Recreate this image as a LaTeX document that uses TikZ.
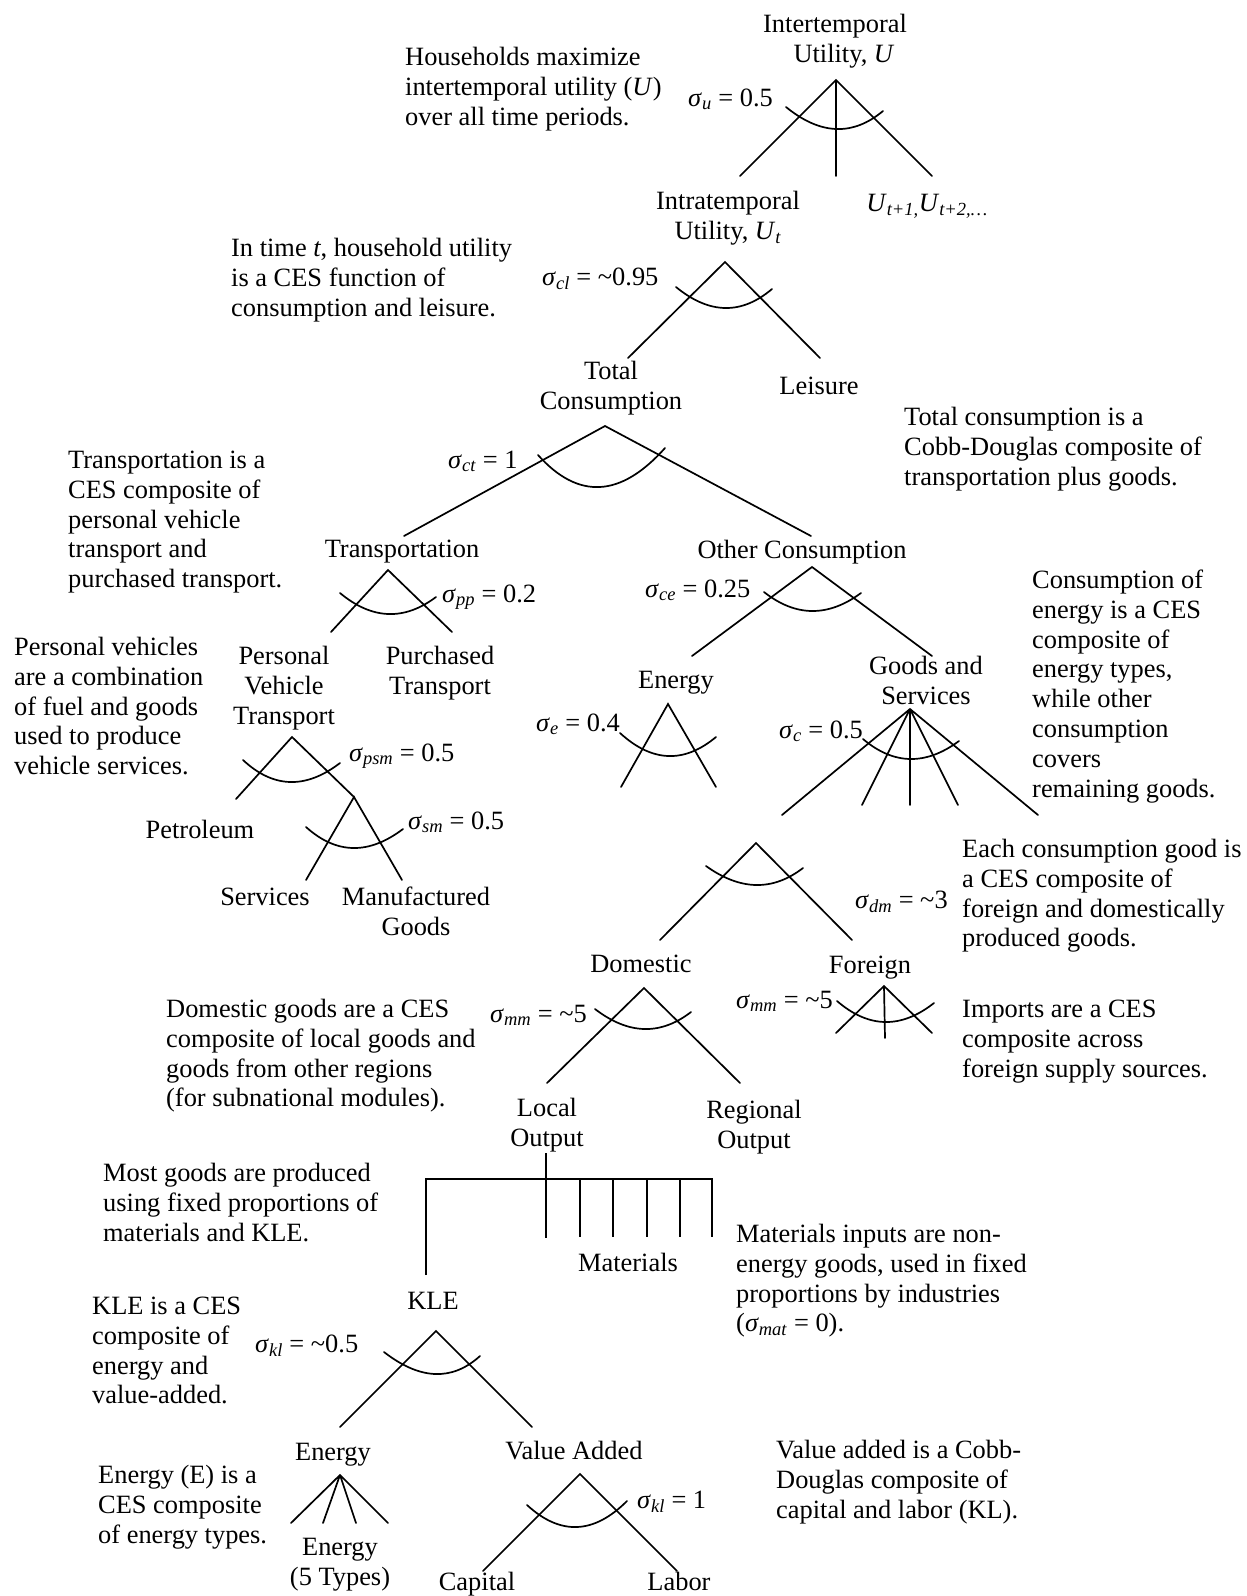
\documentclass[tikz,border=0pt]{standalone}
\usepackage{fontspec}
\setmainfont{Liberation Serif}
\usetikzlibrary{calc}
% elasticity label: italic sigma with italic subscript
\newcommand\sgm[1]{\textit{σ}\textsubscript{\textit{#1}}}
\newcommand\tld{\textasciitilde}
% curved elasticity marker through left end, lowest point and right end
\newcommand\cesarc[3]{\draw[tree] (#1) .. controls ($(#2)+0.3333*(#2)-0.3333*(#3)$) and ($(#2)+0.3333*(#2)-0.3333*(#1)$) .. (#3);}
\tikzset{
  tree/.style={line width=1.7pt, line cap=round},
  lbl/.style={inner sep=0pt, align=center, anchor=north},
  note/.style={inner sep=0pt, align=left, anchor=north west},
  sig/.style={inner sep=0pt, anchor=base west},
}
\begin{document}
\begin{tikzpicture}[x=1pt, y=-1pt, font=\fontsize{26.4}{29.8}\selectfont]
\fill[white] (0,0) rectangle (1247,1596);
\useasboundingbox (0,0) rectangle (1247,1596);

% ---------- explanatory notes ----------
\node[note] (n1) at (405,44.5) {\strut Households maximize\\intertemporal utility (\textit{U})\\over all time periods.};
\node[note] (n2) at (231,235.5) {\strut In time \textit{t}, household utility\\is a CES function of\\consumption and leisure.};
\node[note] (n3) at (904,404.5) {\strut Total consumption is a\\Cobb-Douglas composite of\\transportation plus goods.};
\node[note] (n4) at (68,447.5) {\strut Transportation is a\\CES composite of\\personal vehicle\\transport and\\purchased transport.};
\node[note] (n5) at (14,634.5) {\strut Personal vehicles\\are a combination\\of fuel and goods\\used to produce\\vehicle services.};
\node[note] (n6) at (1032,567.5) {\strut Consumption of\\energy is a CES\\composite of\\energy types,\\while other\\consumption\\covers\\remaining goods.};
\node[note] (n7) at (962,836.5) {\strut Each consumption good is\\a CES composite of\\foreign and domestically\\produced goods.};
\node[note] (n8) at (166,996.5) {\strut Domestic goods are a CES\\composite of local goods and\\goods from other regions\\(for subnational modules).};
\node[note] (n9) at (962,996.5) {\strut Imports are a CES\\composite across\\foreign supply sources.};
\node[note] (n10) at (103,1160.5) {\strut Most goods are produced\\using fixed proportions of\\materials and KLE.};
\node[note] (n11) at (736,1221.5) {\strut Materials inputs are non-\\energy goods, used in fixed\\proportions by industries\\(\sgm{mat} = 0).};
\node[note] (n12) at (92,1293.5) {\strut KLE is a CES\\composite of\\energy and\\value-added.};
\node[note] (n13) at (98,1462.5) {\strut Energy (E) is a\\CES composite\\of energy types.};
\node[note] (n14) at (776,1437.5) {\strut Value added is a Cobb-\\Douglas composite of\\capital and labor (KL).};

% ---------- tree labels ----------
\node[lbl] (inter) at (835,11.5) {\strut Intertemporal\\\hspace*{18pt}Utility, \textit{U}};
\node[lbl] (intra) at (728,188.5) {\strut Intratemporal\\Utility, \textit{U}\textsubscript{\textit{t}}};
\node[lbl] (later) at (927,190.5) {\strut\textit{U}\textsubscript{\textit{t+1,}}\textit{U}\textsubscript{\textit{t+2,…}}};
\node[lbl] (totc) at (611,358.5) {\strut Total\\Consumption};
\node[lbl] (leis) at (819,373.5) {\strut Leisure};
\node[lbl] (trn) at (402,536.5) {\strut Transportation};
\node[lbl] (othc) at (802,537.5) {\strut Other Consumption};
\node[lbl] (pvt) at (284,643.5) {\strut Personal\\Vehicle\\Transport};
\node[lbl] (pur) at (440,643.5) {\strut Purchased\\Transport};
\node[lbl] (ence) at (676,667.5) {\strut Energy};
\node[lbl] (gs) at (926,653.5) {\strut Goods and\\Services};
\node[lbl] (petr) at (200,817.5) {\strut Petroleum};
\node[lbl] (serv) at (265,884.5) {\strut Services};
\node[lbl] (manu) at (416,884.5) {\strut Manufactured\\Goods};
\node[lbl] (dom) at (641,951.5) {\strut Domestic};
\node[lbl] (for) at (870,952.5) {\strut Foreign};
\node[lbl] (loc) at (547,1095.5) {\strut Local\\Output};
\node[lbl] (reg) at (754,1097.5) {\strut Regional\\Output};
\node[lbl] (mat) at (628,1250.5) {\strut Materials};
\node[lbl] (kle) at (433,1288.5) {\strut KLE};
\node[lbl] (enp) at (333,1439.5) {\strut Energy};
\node[lbl] (vadd) at (574,1438.5) {\strut Value Added};
\node[lbl] (en5) at (340,1534.5) {\strut Energy\\(5 Types)};
\node[lbl] (cap) at (477,1569.5) {\strut Capital};
\node[lbl] (lab) at (679,1569.5) {\strut Labor};

% ---------- elasticities ----------
\node[sig] (s1) at (688,106) {\sgm{u} = 0.5};
\node[sig] (s2) at (542,285) {\sgm{cl} = \tld0.95};
\node[sig] (s3) at (448,468) {\sgm{ct} = 1};
\node[sig] (s4) at (442,602) {\sgm{pp} = 0.2};
\node[sig] (s5) at (645,597) {\sgm{ce} = 0.25};
\node[sig] (s6) at (536,731) {\sgm{e} = 0.4};
\node[sig] (s7) at (779,738) {\sgm{c} = 0.5};
\node[sig] (s8) at (349,761) {\sgm{psm} = 0.5};
\node[sig] (s9) at (408,829) {\sgm{sm} = 0.5};
\node[sig] (s10) at (855,908) {\sgm{dm} = \tld3};
\node[sig] (s11) at (490,1022) {\sgm{mm} = \tld5};
\node[sig] (s12) at (736,1008) {\sgm{mm} = \tld5};
\node[sig] (s13) at (255,1352) {\sgm{kl} = \tld0.5};
\node[sig] (s14) at (637,1508) {\sgm{kl} = 1};

% ---------- nesting branches ----------
% intertemporal utility
\coordinate (uA) at (836,80);
\coordinate (uL) at (740,176); \coordinate (uM) at (836,176); \coordinate (uR) at (932,176);
\draw[tree] (uL) -- (uA) -- (uR) (uA) -- (uM);
\cesarc{786,107}{836,129}{883,111}
% intratemporal utility
\coordinate (tA) at (725,262);
\coordinate (tL) at (628,358); \coordinate (tR) at (820,358);
\draw[tree] (tL) -- (tA) -- (tR);
\cesarc{676,287}{725,308}{772,289}
% total consumption
\coordinate (cA) at (605,426);
\coordinate (cL) at (404,536); \coordinate (cR) at (811,536);
\draw[tree] (cL) -- (cA) -- (cR);
\cesarc{538,455}{600,487}{665,448}
% transportation
\coordinate (pA) at (388,570);
\coordinate (pL) at (331,632); \coordinate (pR) at (452,632);
\draw[tree] (pL) -- (pA) -- (pR);
\cesarc{340,593}{388,614}{436,597}
% other consumption
\coordinate (oA) at (812,567);
\coordinate (oL) at (692,656); \coordinate (oR) at (932,656);
\draw[tree] (oL) -- (oA) -- (oR);
\cesarc{764,592}{812,611}{861,593}
% consumer energy
\coordinate (eA) at (668,704);
\coordinate (eL) at (621,787); \coordinate (eR) at (716,787);
\draw[tree] (eL) -- (eA) -- (eR);
\cesarc{620,733}{668,756}{716,737}
% goods and services
\coordinate (gA) at (910,709);
\coordinate (g1) at (782,815); \coordinate (g2) at (862,805); \coordinate (g3) at (910,805);
\coordinate (g4) at (958,805); \coordinate (g5) at (1038,815);
\draw[tree] (g1) -- (gA) -- (g5) (gA) -- (g2) (gA) -- (g3) (gA) -- (g4);
\cesarc{863,739}{910,759}{959,741}
% personal vehicle transport
\coordinate (vA) at (292,737);
\coordinate (vL) at (236,799); \coordinate (vR) at (354,797);
\draw[tree] (vL) -- (vA) -- (vR);
\cesarc{243,760}{290,782}{340,763}
% services and manufactured goods
\coordinate (mL) at (306,880); \coordinate (mR) at (402,880);
\draw[tree] (mL) -- (vR) -- (mR);
\cesarc{306,827}{353,848}{403,829}
% domestic versus foreign
\coordinate (aA) at (756,843);
\coordinate (aL) at (660,940); \coordinate (aR) at (852,940);
\draw[tree] (aL) -- (aA) -- (aR);
\cesarc{706,866}{756,885}{803,868}
% domestic: local versus regional
\coordinate (dA) at (644,988);
\coordinate (dL) at (547,1083); \coordinate (dR) at (740,1083);
\draw[tree] (dL) -- (dA) -- (dR);
\cesarc{595,1009}{644,1029}{691,1012}
% foreign supply sources
\coordinate (fA) at (884,986);
\coordinate (fL) at (836,1033); \coordinate (fM) at (885,1038); \coordinate (fR) at (932,1033);
\draw[tree] (fL) -- (fA) -- (fR) (fA) -- (fM);
\cesarc{837,1001}{885,1022}{934,1003}
% fixed proportions of materials and KLE
\coordinate (lTop) at (546,1153); \coordinate (lBar) at (546,1179);
\coordinate (bL) at (426,1179); \coordinate (bR) at (712,1179);
\coordinate (kTop) at (426,1275);
\draw[tree, line cap=butt] (lTop) -- (546,1238);
\draw[tree, line cap=butt] (kTop) -- (bL) -- (bR) -- (712,1237);
\foreach \mx in {580,613,647,680}
  \draw[tree, line cap=butt] (\mx,1179) -- (\mx,1237);
% KLE
\coordinate (kA) at (436,1331);
\coordinate (kL) at (340,1427); \coordinate (kR) at (532,1427);
\draw[tree] (kL) -- (kA) -- (kR);
\cesarc{384,1352}{435,1374}{480,1356}
% energy types
\coordinate (xA) at (340,1475);
\draw[tree] (xA) -- (291,1523) (xA) -- (323,1523) (xA) -- (356,1523) (xA) -- (388,1523);
% value added
\coordinate (wA) at (580,1474);
\coordinate (wL) at (483,1571); \coordinate (wR) at (677,1571);
\draw[tree] (wL) -- (wA) -- (wR);
\cesarc{527,1505}{577,1527}{627,1501}
\end{tikzpicture}
\end{document}
